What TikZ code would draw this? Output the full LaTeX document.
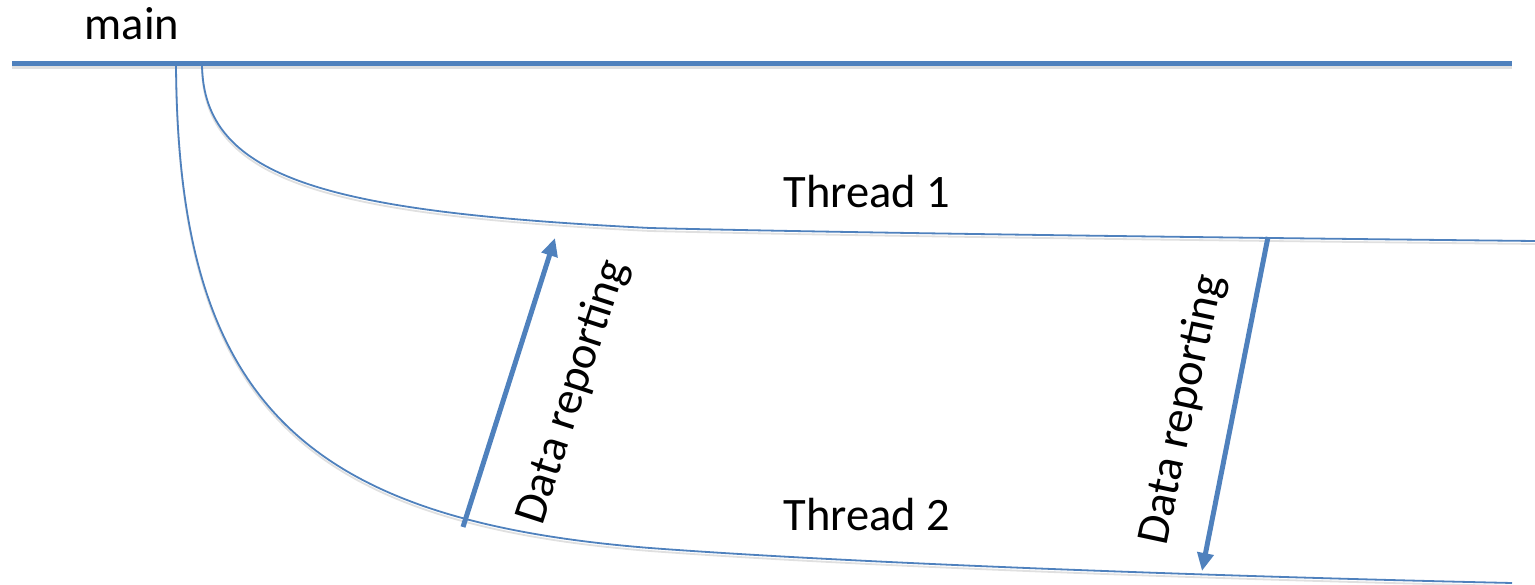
\documentclass[tikz,border=0pt]{standalone}
\usepackage{fontspec}
\setmainfont{Carlito}
\usetikzlibrary{arrows.meta}
\definecolor{lineblue}{RGB}{79,129,189}
\tikzset{
  shadowed/.style={preaction={draw=black, draw opacity=0.12, line width=#1, transform canvas={yshift=-3pt}}},
  mainline/.style={draw=lineblue, line width=5pt, line cap=butt, shadowed=5pt},
  threadline/.style={draw=lineblue, line width=1.8pt, shadowed=1.8pt},
  report/.style={draw=lineblue, line width=5pt, -{Triangle[width=16pt,length=18pt]}},
  lbl/.style={inner sep=0pt, font=\fontsize{46.5}{55}\selectfont, text=black},
}
\begin{document}
\begin{tikzpicture}[x=1pt, y=-1pt]
\useasboundingbox (0,0) rectangle (1535,585);
% coordinates
\coordinate (mL) at (12,63.5);
\coordinate (mR) at (1512,63.5);
\coordinate (t1s) at (202,64);
\coordinate (t1m) at (650,228);
\coordinate (t1e) at (1535,241);
\coordinate (t2s) at (176,64);
\coordinate (t2m) at (650,548);
\coordinate (t2e) at (1512,583);
\coordinate (a1s) at (463,527);
\coordinate (a1e) at (555,238);
\coordinate (a2s) at (1268,237);
\coordinate (a2e) at (1202,571);
% main line
\draw[mainline] (mL) -- (mR);
% thread 1
\draw[threadline] (t1s) .. controls (203,180) and (330,212) .. (t1m)
  .. controls (850,233) and (1250,238) .. (t1e);
% thread 2
\draw[threadline] (t2s) .. controls (178,400) and (300,520) .. (t2m)
  .. controls (850,563) and (1200,576) .. (t2e);
% arrows
\draw[report] (a1s) -- (a1e);
\draw[report] (a2s) -- (a2e);
% labels
\node[lbl, anchor=base] (main) at (132,40) {main};
\node[lbl, anchor=base] (th1) at (867,208) {Thread 1};
\node[lbl, anchor=base] (th2) at (867,530) {Thread 2};
\node[lbl, rotate=72] (dr1) at (573,392) {Data reporting};
\node[lbl, rotate=78] (dr2) at (1183,410) {Data reporting};
\end{tikzpicture}
\end{document}
